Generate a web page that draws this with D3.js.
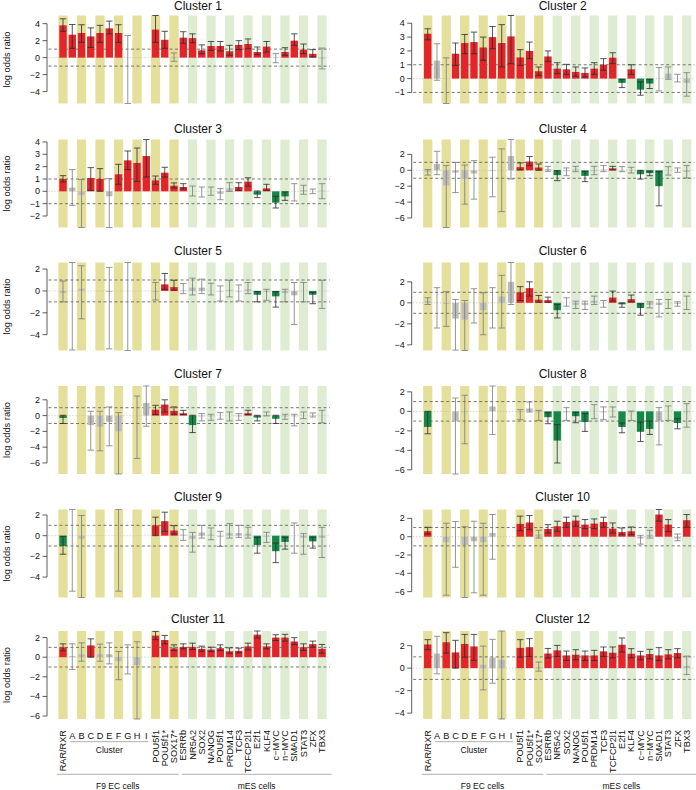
<!DOCTYPE html>
<html><head><meta charset="utf-8">
<script src="https://cdn.jsdelivr.net/npm/d3@7"></script>
<style>body{margin:0;background:#fff} svg{display:block} text{font-family:"Liberation Sans",Arial,sans-serif;fill:#111}</style>
</head><body><svg id="c" width="696" height="790"></svg>
<script>
// ---------------- data ----------------
const columns = ["RAR/RXR","A","B","C","D","E","F","G","H","I","POU5f1","POU5f1*","SOX17*","ESRRb","NR5A2","SOX2","NANOG","POU5f1","PRDM14","TCF3","TCFCP2l1","E2f1","KLF4","c\u2212MYC","n\u2212MYC","SMAD1","STAT3","ZFX","TBX3"];
const clusterNames = ["Cluster 1","Cluster 2","Cluster 3","Cluster 4","Cluster 5","Cluster 6","Cluster 7","Cluster 8","Cluster 9","Cluster 10","Cluster 11","Cluster 12"];
const tickSteps = [2,1,1,2,2,2,2,2,2,2,2,2];
// r = enriched (red), g = depleted (green), n = not significant (gray), - = no data
const significance = [
 "rrrrrrrn--rrnrrrrrrrrrrnrrrrn",
 "rnnrrrrrrrrrrrrrrrrrrgrggnnnn",
 "rnnrrnrrrrrrrrnnnnnrrgrggnnnn",
 "nnnnnn-nnnrrrngnngnnrnngggnnn",
 "nnn--n-n--nrrnnnnnnnngngnnngn",
 "nnnnnnnnnnrrrrgnnnnnrgrgnnnnn",
 "g--nnnn-nnrrrrgnnnnnrgngnnnnn",
 "g--nn--n--nnnggnggnnngnggnngn",
 "gnn---n---rrrnnnnnnnngnggnngn",
 "r-nnnnnn--rrnrrrrrrrrrrnnrrnr",
 "rnnrnnnnn-rrrrrrrrrrrrrrrrrrr",
 "rnrrrrnnn-rrnrrrrrrrrrrrrrrrn"
];
const logOdds = [
 [3.8,2.7,2.9,2.5,2.9,3.45,2.9,0,null,null,3.3,2.1,0.1,2.35,2.3,0.86,1.37,1.37,0.75,1.5,1.6,0.66,1.3,-0.05,0.66,2.0,0.94,0.45,-0.1],
 [3.24,1.3,0,1.8,2.57,2.64,2.25,3.0,2.57,3.05,1.53,2.0,0.53,1.6,0.72,0.67,0.48,0.41,0.72,1.0,1.51,-0.31,0.67,-0.8,-0.36,0,0.36,0,-0.31],
 [1.0,0.3,-0.3,1.08,1.0,-0.4,1.38,2.51,2.3,2.86,0.89,1.51,0.46,0.35,0,0,0,-0.2,0.25,0.35,0.78,-0.27,0.24,-0.92,-0.41,0,0.1,0,0.05],
 [-0.2,0.8,-1.9,-0.3,-1.1,-0.4,null,-0.1,0,1.8,0.4,1.1,0.35,0.15,-0.6,-0.1,0.1,-0.7,-0.1,0.1,0.25,0.05,0,-0.5,-0.35,-2.0,0,0,-0.2],
 [-0.2,0,0.2,null,null,-0.1,null,0,null,null,-0.1,0.6,0.35,0.05,0.3,0.3,0,-0.05,0.1,-0.05,0.15,-0.35,-0.1,-0.5,-0.2,-0.4,0,-0.35,0],
 [0.2,0,-0.1,-1.5,-1.6,0,-0.7,0,0.6,2.0,1.0,1.4,0.3,0.25,-0.7,0,-0.2,-0.2,0.2,0,0.5,-0.15,0.35,-0.5,-0.2,-0.2,0,-0.1,0],
 [-0.3,null,null,-1.2,-1.4,-0.8,-2.0,null,0,1.6,0.75,1.4,0.6,0.3,-1.2,-0.1,-0.1,0,0,-0.1,0.3,-0.25,0.1,-0.4,-0.1,-0.1,0,0.05,0],
 [-1.6,null,null,-1.0,-0.1,null,null,0.5,null,null,-0.1,0.3,-0.1,-0.6,-3.0,-0.1,-0.5,-1.1,0,-0.1,0,-1.6,-0.1,-2.1,-1.8,-1.0,0,-1.2,-0.1],
 [-1.0,0,-0.3,null,null,null,0,null,null,null,1.0,1.4,0.5,0.1,-0.3,0.3,0.1,-0.1,0.25,0.25,0.2,-0.9,-0.1,-1.5,-0.6,0,-0.2,-0.55,-0.2],
 [0.6,null,-0.6,0,-0.9,-0.5,-0.6,0.4,null,null,1.4,1.55,0.25,0.84,1.14,1.61,1.76,1.32,1.43,1.61,0.88,0.51,0.59,-0.2,0.2,2.42,1.32,-0.2,1.8],
 [1.0,0.1,0.3,1.2,0.3,0.3,-0.4,0,-0.8,null,2.2,1.75,0.9,1.05,1.05,0.85,0.78,0.92,0.6,0.65,1.1,2.3,1.1,2.0,2.0,1.6,1.02,1.33,0.85],
 [2.1,1.3,2.3,1.4,2.15,1.93,0.3,0.95,0.72,null,1.8,1.86,0.1,1.3,1.58,1.13,1.19,1.13,1.13,1.49,1.37,2.08,1.28,1.13,1.25,1.13,1.22,1.34,0.2]
];
const ciLow = [
 [3.1,1.1,1.8,1.2,1.8,2.8,1.8,-5.4,null,null,1.8,1.1,-0.43,1.7,1.75,0.45,0.86,0.78,0.27,0.95,1.05,0.35,0.66,-0.6,0.27,1.45,0.47,0.08,-1.33],
 [2.8,-0.12,-1.8,0.96,1.8,1.8,1.32,2.16,0.84,1.08,0.96,1.44,0.24,1.25,0.36,0.31,0.17,0.12,0.31,0.6,1.08,-0.65,0.31,-1.2,-0.72,-0.89,-0.05,-0.24,-1.27],
 [0.76,-1.14,-2.93,0.08,0,-2.93,0.57,1.76,0.81,1.16,0.57,1.16,0.27,0.19,-0.38,-0.46,-0.32,-0.68,0,0.08,0.43,-0.51,0.08,-1.35,-0.73,-0.78,-0.24,-0.19,-0.6],
 [-0.6,-0.55,-7.2,-2.8,-4.26,-3.63,null,-3.33,-5.2,-1.1,0.04,0.59,0,-0.13,-1.3,-0.68,-0.17,-1.43,-0.55,-0.17,0.04,-0.17,-0.34,-1.1,-0.68,-4.47,-0.6,-0.25,-0.97],
 [-1.0,-5.4,-2.55,null,null,-5.3,null,-5.45,null,null,-0.83,0.15,0.06,-0.25,-0.37,-0.25,-0.37,-0.92,-0.55,-0.92,-0.25,-1.0,-0.86,-1.48,-1.0,-3.08,-1.0,-1.17,-1.6],
 [-0.16,-2.4,-2.24,-4.5,-4.54,-1.92,-3.04,-2.4,-2.4,-0.16,0.22,0.64,0.06,0.06,-1.44,-0.32,-0.54,-0.64,-0.16,-0.42,0.16,-0.42,0.1,-1.18,-0.48,-1.34,-0.54,-0.32,-0.64],
 [-1.0,null,null,-4.38,-4.46,-3.83,-7.4,null,-5.43,-1.35,0.13,0.46,0.17,0.13,-2.15,-0.67,-0.6,-0.46,-0.67,-0.6,0.13,-0.67,-0.04,-1.0,-0.46,-1.3,-0.38,-0.17,-0.92],
 [-2.3,null,null,-6.43,-3.33,null,null,-2.37,null,null,-0.86,-0.07,-0.93,-1.27,-5.3,-0.93,-1.17,-2.06,-0.76,-0.86,-0.58,-2.2,-0.93,-3.1,-2.37,-3.44,-0.93,-1.79,-1.62],
 [-1.79,-5.36,-5.97,null,null,null,-5.36,null,null,null,0,0.42,0.16,-0.45,-1.59,-0.23,-0.39,-1.04,-0.23,-0.16,-0.23,-1.69,-0.65,-2.6,-1.3,-1.69,-1.79,-1.2,-2.11],
 [0.29,null,-6.39,-3.34,-6.64,-6.13,-6.39,-2.46,null,null,0.66,0.77,-0.15,0.4,0.59,1.03,1.14,0.88,0.88,1.03,0.4,0.22,0.22,-0.81,-0.15,1.69,0.55,-0.44,1.03],
 [0.65,-1.26,-0.41,0,-0.41,-0.68,-2.29,-1.71,-6.3,null,1.78,1.36,0.68,0.85,0.78,0.61,0.58,0.68,0.41,0.44,0.75,1.95,0.85,1.7,1.64,1.3,0.68,1.02,0.41],
 [1.64,-0.51,1.34,0,0.98,0.68,-1.93,-1.34,-4.52,null,0.98,1.04,-0.27,0.9,1.04,0.68,0.74,0.68,0.68,1.04,0.92,1.43,0.92,0.74,0.83,0.68,0.83,0.92,-0.57]
];
const ciHigh = [
 [4.57,3.9,3.87,3.5,3.8,4.3,3.87,2.6,null,null,4.96,3.1,0.55,3.05,2.8,1.5,1.9,1.9,1.45,2.0,2.2,1.25,1.9,0.47,1.17,2.8,1.6,0.94,1.13],
 [3.6,2.52,1.5,2.57,3.19,3.36,3.0,3.76,3.9,4.56,2.09,2.64,0.84,2.0,1.15,1.03,0.84,0.77,1.15,1.44,1.87,-0.05,1.0,-0.24,-0.05,0.8,0.84,0.31,0.43],
 [1.27,1.76,0.95,1.92,1.84,1.03,2.19,3.27,3.51,4.2,1.24,1.95,0.68,0.62,0.43,0.35,0.35,0.22,0.7,0.7,1.1,0.03,0.57,-0.4,-0.05,0.62,0.49,0.19,0.62],
 [0.1,2.4,0.6,1.0,0.67,1.22,null,1.65,2.7,3.88,0.93,1.73,0.8,0.5,-0.04,0.3,0.5,-0.17,0.5,0.6,0.5,0.46,0.38,0,-0.1,-0.17,0.46,0.3,0.6],
 [0.9,2.6,2.3,null,null,2.15,null,2.6,null,null,0.77,1.6,0.98,0.68,1.17,1.08,0.7,0.46,0.98,0.55,0.77,-0.06,0.15,-0.06,0.15,0.77,0.77,-0.15,0.98],
 [0.48,1.44,1.06,0.32,0.22,1.34,0.96,1.44,2.62,3.84,1.54,2.0,0.7,0.54,-0.16,0.48,0.16,0.16,0.64,0.22,1.12,0,0.74,-0.1,0.1,0.32,0.32,0.1,0.64],
 [0.04,null,null,0.55,0.55,1.1,0.38,null,2.48,3.75,1.3,2.0,1.1,0.67,0.04,0.25,0.17,0.38,0.46,0.25,0.67,0.04,0.46,0.04,0.17,0.17,0.46,0.34,0.67],
 [0,null,null,1.37,1.65,null,null,2.6,null,null,0.17,0.96,0.1,-0.14,-1.37,0.38,-0.1,-0.24,0.69,0.45,0.45,-1.2,0.03,-1.1,-1.0,0.38,0.55,-0.76,0.79],
 [-0.06,2.53,1.95,null,null,null,2.53,null,null,null,1.79,2.27,0.97,0.58,0.32,1.0,0.75,0.42,1.17,1.0,0.81,-0.16,0.32,-0.71,-0.16,1.23,0.2,-0.16,0.81],
 [1.03,null,1.47,1.65,1.1,1.69,1.47,2.42,null,null,2.24,2.31,0.7,1.32,1.69,2.13,2.24,1.87,1.94,2.13,1.5,0.95,1.06,0.15,0.7,2.97,1.87,0.29,2.42],
 [1.36,1.36,1.46,1.87,1.33,1.46,0.58,1.26,1.57,null,2.63,2.22,1.26,1.36,1.43,1.13,1.02,1.26,0.95,0.92,1.43,2.67,1.36,2.29,2.33,1.99,1.36,1.64,1.3],
 [2.53,2.83,3.15,2.47,3.0,3.0,1.96,2.56,3.3,null,2.53,2.62,0.54,1.75,2.02,1.52,1.64,1.52,1.58,1.88,1.88,2.68,1.73,1.49,1.67,1.82,1.64,1.73,1.07]
];
const groupLabels = ["F9 EC cells","mES cells"];
const subGroupLabel = "Cluster";

// ---------------- layout / style ----------------
const rowTops = [15.5, 139.5, 262.5, 386, 509.5, 631];
const titleBase = [10, 132.7, 254.5, 377.7, 500.7, 623.3];
const plotH = 88;
const panelDX = 364.7;
const COL = {yellow:"#E4E09B", green:"#DEEDD1", red:"#E3242B", dgreen:"#168749", gray:"#BCBCBC"};

const svg = d3.select("#c");

logOdds.forEach((vals, k) => {
  [logOdds[k], ciLow[k], ciHigh[k], significance[k]].forEach(a => { if (a.length !== columns.length) throw new Error("len mismatch cluster " + (k+1)); });
  const row = Math.floor(k / 2), side = k % 2;
  const ox = side * panelDX;
  const top = rowTops[row], bottom = top + plotH;
  const lo = ciLow[k], hi = ciHigh[k], sig = significance[k];
  const ymin = d3.min(lo), ymax = d3.max(hi);
  const y = d3.scaleLinear().domain([ymin, ymax]).range([bottom, top]);
  const x = d3.scaleBand().domain(d3.range(columns.length)).range([ox + 58.4, ox + 326.65]).padding(0);
  const g = svg.append("g");

  // stripes
  g.selectAll("rect.stripe").data(d3.range(0, columns.length, 2)).join("rect")
    .attr("x", i => x(i)).attr("width", x.bandwidth())
    .attr("y", top).attr("height", bottom - top)
    .attr("fill", i => i <= 12 ? COL.yellow : COL.green);

  // reference lines
  const lx0 = ox + 48.5, lx1 = ox + 329.8;
  g.append("line").attr("x1", lx0).attr("x2", lx1).attr("y1", y(0)).attr("y2", y(0))
    .attr("stroke", "#b5b5b5").attr("stroke-width", 0.8).attr("stroke-dasharray", "1,2");
  [1, -1].forEach(v => {
    if (v >= ymin && v <= ymax)
      g.append("line").attr("x1", lx0).attr("x2", lx1).attr("y1", y(v)).attr("y2", y(v))
        .attr("stroke", "#555").attr("stroke-width", 0.8).attr("stroke-dasharray", "3,2.5");
  });

  const idx = d3.range(columns.length).filter(i => vals[i] !== null && sig[i] !== "-");
  // bars
  g.selectAll("rect.bar").data(idx).join("rect")
    .attr("x", i => x(i) + x.bandwidth() / 2 - (sig[i] === "n" ? 3.2 : 3.7))
    .attr("width", i => sig[i] === "n" ? 6.4 : 7.4)
    .attr("y", i => Math.min(y(0), y(vals[i])))
    .attr("height", i => Math.abs(y(0) - y(vals[i])))
    .attr("fill", i => sig[i] === "r" ? COL.red : sig[i] === "g" ? COL.dgreen : COL.gray);

  // error bars
  const eb = g.selectAll("g.eb").data(idx).join("g")
    .attr("stroke", i => sig[i] === "n" ? "#7a7a7a" : "#2b2b2b").attr("stroke-width", 0.8);
  const cx = i => x(i) + x.bandwidth() / 2;
  eb.append("line").attr("x1", cx).attr("x2", cx).attr("y1", i => y(lo[i])).attr("y2", i => y(hi[i]));
  eb.append("line").attr("x1", i => cx(i) - 3.2).attr("x2", i => cx(i) + 3.2).attr("y1", i => y(lo[i])).attr("y2", i => y(lo[i]));
  eb.append("line").attr("x1", i => cx(i) - 3.2).attr("x2", i => cx(i) + 3.2).attr("y1", i => y(hi[i])).attr("y2", i => y(hi[i]));

  // y axis (R style: line spans first..last tick)
  const step = tickSteps[k];
  const ticks = d3.range(Math.ceil(ymin / step) * step, ymax + 1e-9, step);
  const ax = ox + 47;
  const axg = g.append("g").attr("stroke", "#333").attr("stroke-width", 0.8);
  axg.append("line").attr("x1", ax).attr("x2", ax).attr("y1", y(ticks[0])).attr("y2", y(ticks[ticks.length - 1]));
  axg.selectAll("line.t").data(ticks).join("line").attr("x1", ax - 4.5).attr("x2", ax).attr("y1", d => y(d)).attr("y2", d => y(d));
  g.selectAll("text.tl").data(ticks).join("text")
    .attr("x", ax - 7).attr("y", d => y(d)).attr("dy", "0.33em")
    .attr("text-anchor", "end").attr("font-size", 9)
    .text(d => d3.format("d")(d));

  // title
  g.append("text").attr("x", ox + 198).attr("y", titleBase[row]).attr("text-anchor", "middle")
    .attr("font-size", 12).text(clusterNames[k]);

  // y label on left panels
  if (side === 0) {
    g.append("text").attr("transform", `translate(10,${(top + bottom) / 2}) rotate(-90)`)
      .attr("text-anchor", "middle").attr("font-size", 9.3).text("log odds ratio");
  }

  // category labels on the bottom row
  if (row === 5) {
    const lg = g.append("g");
    columns.forEach((c, i) => {
      if (i >= 1 && i <= 9) {
        lg.append("text").attr("x", cx(i)).attr("y", 738.5).attr("text-anchor", "middle").attr("font-size", 9.2).text(c);
      } else {
        lg.append("text").attr("transform", `translate(${cx(i) + 3.2},730) rotate(-90)`)
          .attr("text-anchor", "end").attr("font-size", 9.2).text(c);
      }
    });
    lg.append("line").attr("x1", cx(1) - 2).attr("x2", cx(9) + 2).attr("y1", 741.7).attr("y2", 741.7).attr("stroke", "#9a9a9a").attr("stroke-width", 0.8);
    lg.append("text").attr("x", (cx(1) + cx(9)) / 2).attr("y", 752.5).attr("text-anchor", "middle").attr("font-size", 8.5).text(subGroupLabel);
    const g1a = x(0) - 1.5, g1b = x(12) + x.bandwidth(), g2a = x(13) + 3, g2b = x(28) + x.bandwidth() + 5;
    lg.append("line").attr("x1", g1a).attr("x2", g1b).attr("y1", 774.3).attr("y2", 774.3).attr("stroke", "#9a9a9a").attr("stroke-width", 0.8);
    lg.append("line").attr("x1", g2a).attr("x2", g2b).attr("y1", 774.3).attr("y2", 774.3).attr("stroke", "#9a9a9a").attr("stroke-width", 0.8);
    lg.append("text").attr("x", (g1a + g1b) / 2).attr("y", 789).attr("text-anchor", "middle").attr("font-size", 8.5).text(groupLabels[0]);
    lg.append("text").attr("x", (g2a + g2b) / 2).attr("y", 789).attr("text-anchor", "middle").attr("font-size", 8.5).text(groupLabels[1]);
  }
});
</script>
</body></html>
